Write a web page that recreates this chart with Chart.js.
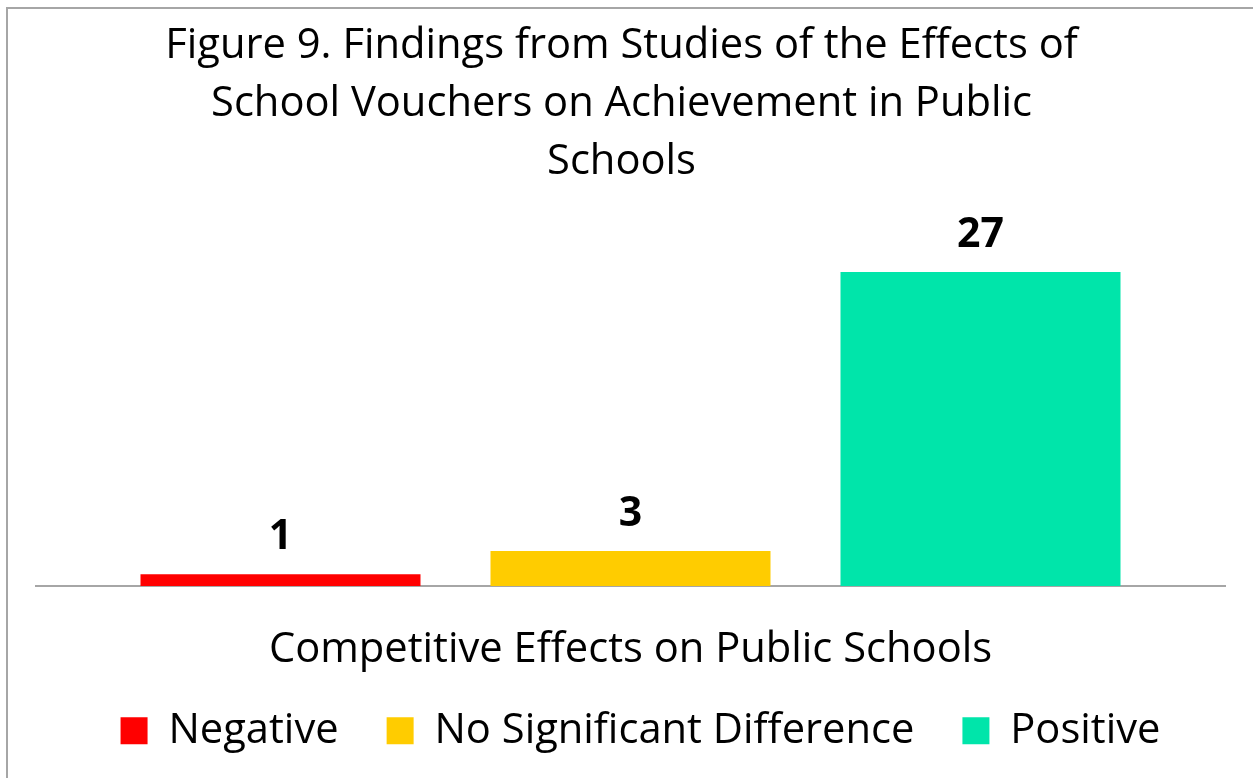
<!DOCTYPE html>
<html>
<head>
<meta charset="utf-8">
<script src="https://cdn.jsdelivr.net/npm/chart.js@4"></script>
<style>
  html, body { margin: 0; padding: 0; background: #fff; overflow: hidden; width: 1253px; height: 778px; }
  #frame { position: absolute; left: 6px; top: 7px; width: 1262px; height: 780px;
           border-left: 2px solid #a6a6a6; border-top: 2px solid #a6a6a6; background: #fff; }
  #wrap { position: absolute; left: 1px; top: 0; width: 1260px; height: 769px; }
</style>
</head>
<body>
<div id="frame"><div id="wrap"><canvas id="chart" width="1260" height="769"></canvas></div></div>
<script>
// ---- data ----
const titleLines = ['Figure 9. Findings from Studies of the Effects of', 'School Vouchers on Achievement in Public', 'Schools'];
const categories = ['Competitive Effects on Public Schools'];
const seriesNames = ['Negative', 'No Significant Difference', 'Positive'];
const negativeValues = [1];
const noDifferenceValues = [3];
const positiveValues = [27];
const yMin = 0;
const yMax = 30;

// ---- style ----
const FONT = "'Open Sans', 'Noto Sans', sans-serif";
const colors = ['#FF0000', '#FFCC00', '#00E5AA'];
const TITLE_DX = -9;
const LEGEND_DX = 10;
const X_AXIS_HEIGHT = 76;

const valueLabels = {
  id: 'valueLabels',
  afterDatasetsDraw(chart) {
    const ctx = chart.ctx;
    ctx.save();
    ctx.font = "bold 41px " + FONT;
    ctx.fillStyle = '#000';
    ctx.textAlign = 'center';
    ctx.textBaseline = 'alphabetic';
    chart.data.datasets.forEach((ds, i) => {
      const meta = chart.getDatasetMeta(i);
      meta.data.forEach((bar, j) => {
        ctx.fillText(String(ds.data[j]), bar.x, bar.y - 25);
      });
    });
    ctx.restore();
  }
};

function shiftBox(box, dx) {
  if (!box || box.__shifted) return;
  box.__shifted = true;
  const orig = box.draw;
  box.draw = function (...args) {
    const c = this.ctx;
    c.save();
    c.translate(dx, 0);
    orig.apply(this, args);
    c.restore();
  };
}

const boxShift = {
  id: 'boxShift',
  beforeDraw(chart) {
    shiftBox(chart.titleBlock, TITLE_DX);
    shiftBox(chart.legend, LEGEND_DX);
  }
};

const datasetValues = [negativeValues, noDifferenceValues, positiveValues];

new Chart(document.getElementById('chart'), {
  type: 'bar',
  data: {
    labels: categories,
    datasets: seriesNames.map((name, i) => ({
      label: name,
      data: datasetValues[i],
      backgroundColor: colors[i],
      borderWidth: 0,
      categoryPercentage: 0.8831,
      barPercentage: 0.8
    }))
  },
  options: {
    responsive: false,
    animation: false,
    layout: { padding: { left: 27, right: 44, top: 0, bottom: 16.3 } },
    plugins: {
      tooltip: { enabled: false },
      title: {
        display: true,
        text: titleLines,
        color: '#000',
        font: { family: FONT, size: 41.7, weight: 'normal', lineHeight: '58px' },
        padding: { top: 8, bottom: 46 }
      },
      legend: {
        display: true,
        position: 'bottom',
        labels: {
          color: '#000',
          font: { family: FONT, size: 41.7 },
          boxWidth: 27,
          boxHeight: 27,
          padding: 48
        }
      }
    },
    scales: {
      x: {
        grid: { display: false, drawTicks: false },
        border: { display: true, color: '#a6a6a6', width: 2 },
        ticks: { display: false },
        title: {
          display: true,
          text: categories[0],
          color: '#000',
          font: { family: FONT, size: 41.7, lineHeight: '20px' },
          padding: { top: 0, bottom: 2 }
        },
        afterFit(scale) { scale.height = X_AXIS_HEIGHT; }
      },
      y: {
        display: false,
        min: yMin,
        max: yMax
      }
    }
  },
  plugins: [valueLabels, boxShift]
});
</script>
</body>
</html>
